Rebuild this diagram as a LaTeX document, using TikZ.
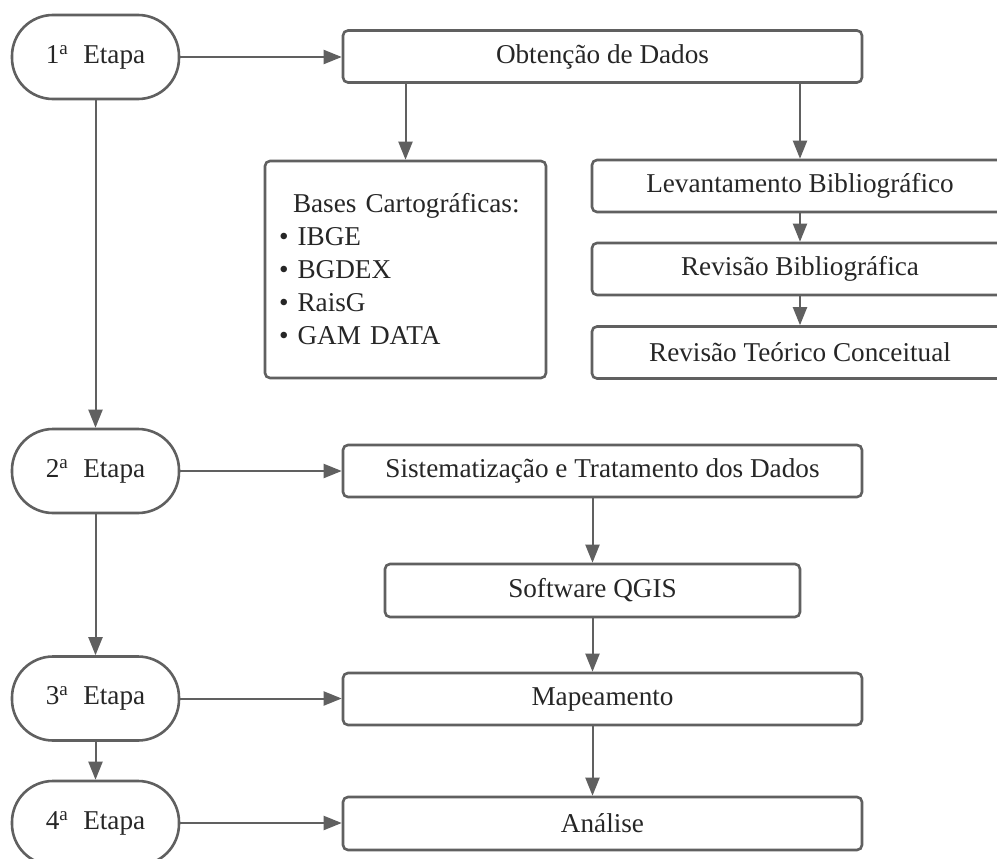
\documentclass[tikz,border=0pt]{standalone}
\usepackage{fontspec}
\setmainfont{Liberation Serif}
\usepackage{tikz}
\usetikzlibrary{arrows.meta,positioning}
\definecolor{mygray}{RGB}{96,96,96}
\definecolor{mytext}{RGB}{38,38,38}
\tikzstyle{etapa}=[draw=mygray,line width=2.6pt,fill=white,rectangle,rounded corners=41pt,minimum width=167pt,minimum height=84pt,inner sep=0pt,text=mytext]
\tikzstyle{caixa}=[draw=mygray,line width=2.6pt,fill=white,rectangle,rounded corners=5pt,minimum height=52pt,inner sep=0pt,text=mytext]
\tikzstyle{seta}=[draw=mygray,line width=2pt,-{Triangle[length=18pt,width=14pt]}]
\newcommand{\etp}[1]{#1\textsuperscript{a}\hspace{0.55em}Etapa}

\begin{document}
\begin{tikzpicture}[x=1pt,y=-1pt,font=\fontsize{27.2}{33}\selectfont]
\useasboundingbox (0,0) rectangle (997,859);
\clip (0,0) rectangle (997,859);
\fill [white] (0,0) rectangle (997,859);
% etapas
\node [etapa] (e1) at (95.5,57) {\etp{1}};
\node [etapa] (e2) at (95.5,471) {\etp{2}};
\node [etapa] (e3) at (95.5,698.5) {\etp{3}};
\node [etapa] (e4) at (95.5,823) {\etp{4}};
% caixas
\node [caixa, minimum width=519pt] (obt) at (602.5,56.5) {Obtenção de Dados};
\node [caixa, minimum width=281pt, minimum height=217pt, text width=253pt, align=left] (bases) at (405.5,269.5)
  {\hspace*{14pt}Bases Cartográficas:\\• IBGE\\• BGDEX\\• RaisG\\• GAM DATA};
\node [caixa, minimum width=416pt] (lev) at (800,186) {Levantamento Bibliográfico};
\node [caixa, minimum width=416pt] (revb) at (800,269) {Revisão Bibliográfica};
\node [caixa, minimum width=416pt] (revt) at (800,352.5) {Revisão Teórico Conceitual};
\node [caixa, minimum width=519pt] (sist) at (602.5,471) {Sistematização e Tratamento dos Dados};
\node [caixa, minimum width=415pt, minimum height=53pt] (qgis) at (592.5,590.5) {Software QGIS};
\node [caixa, minimum width=519pt] (map) at (602.5,699) {Mapeamento};
\node [caixa, minimum width=519pt, minimum height=53pt] (ana) at (602.5,823.5) {Análise};
% setas
\draw [seta] (e1) -- (e2);
\draw [seta] (e2) -- (e3);
\draw [seta] (e3) -- (e4);
\draw [seta] (e1.east) -- (e1.east -| obt.west);
\draw [seta] (e2.east) -- (e2.east -| sist.west);
\draw [seta] (e3.east) -- (e3.east -| map.west);
\draw [seta] (e4.east) -- (e4.east -| ana.west);
\draw [seta] (obt.south -| bases.north) -- (bases.north);
\draw [seta] (obt.south -| lev.north) -- (lev.north);
\draw [seta] (lev) -- (revb);
\draw [seta] (revb) -- (revt);
\draw [seta] (sist.south -| qgis.north) -- (qgis.north);
\draw [seta] (qgis.south) -- (qgis.south |- map.north);
\draw [seta] (map.south -| qgis.south) -- (qgis.south |- ana.north);
\end{tikzpicture}
\end{document}
